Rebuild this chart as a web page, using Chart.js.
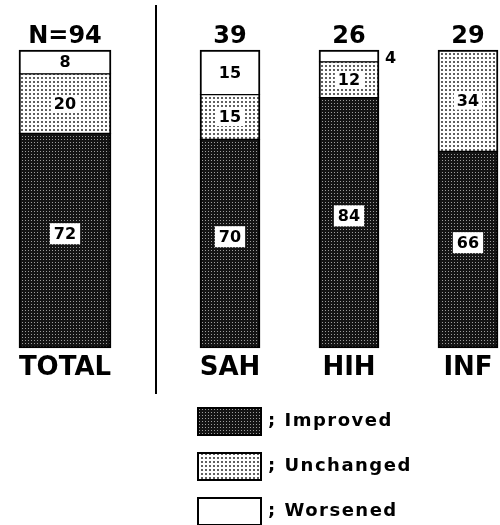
<!DOCTYPE html>
<html lang="en">
<head>
    <meta charset="UTF-8">
    <title>Outcome by group</title>
    <script src="https://cdn.jsdelivr.net/npm/chart.js"></script>
    <style>
        body { margin: 0; background: #fff; overflow: hidden; }
        #wrap { position: relative; width: 500px; height: 525px; }
        canvas { position: absolute; top: 0; left: 0; }
    </style>
</head>
<body>
    <div id="wrap">
        <canvas id="groupChart" width="500" height="525"></canvas>
        <canvas id="totalChart" width="130" height="525"></canvas>
    </div>
    <script>
        // percentages per group
        const groups = ['TOTAL', 'SAH', 'HIH', 'INF'];
        const counts = [94, 39, 26, 29];
        const improved = [72, 70, 84, 66];
        const unchanged = [20, 15, 12, 34];
        const worsened = [8, 15, 4, 0];
        const outcomes = ['Improved', 'Unchanged', 'Worsened'];

        Chart.defaults.font.family = '"DejaVu Sans", sans-serif';
        Chart.defaults.color = '#000';

        function makePattern(size, bg, dot, dotSize) {
            const c = document.createElement('canvas');
            c.width = size; c.height = size;
            const g = c.getContext('2d');
            g.fillStyle = bg;
            g.fillRect(0, 0, size, size);
            g.fillStyle = dot;
            g.fillRect(1, 1, dotSize, dotSize);
            return g.createPattern(c, 'repeat');
        }
        const darkFill = makePattern(3, '#141414', '#9c9c9c', 1);
        const lightFill = makePattern(4, '#ffffff', '#606060', 2);
        const fills = [darkFill, lightFill, '#ffffff'];

        // only the outer edge of each stack gets the heavy border
        function edges(c) {
            const ds = c.chart.data.datasets;
            const i = c.dataIndex, d = c.datasetIndex;
            const below = ds.slice(0, d).some(s => s.data[i] > 0);
            const above = ds.slice(d + 1).some(s => s.data[i] > 0);
            return { left: 2, right: 2, bottom: below ? 1 : 2, top: above ? 1 : 2 };
        }

        function buildDatasets(from, to, thickness) {
            return [improved, unchanged, worsened].map((arr, k) => ({
                label: outcomes[k],
                data: arr.slice(from, to),
                backgroundColor: fills[k],
                borderColor: '#000',
                borderWidth: edges,
                borderSkipped: false,
                barThickness: thickness,
                clip: false
            }));
        }

        const valueLabels = {
            id: 'valueLabels',
            afterDatasetsDraw(chart) {
                const ctx = chart.ctx;
                const nCounts = chart.options.plugins.valueLabels.counts;
                const prefix = chart.options.plugins.valueLabels.prefix;
                ctx.save();
                chart.data.datasets.forEach((ds, d) => {
                    const meta = chart.getDatasetMeta(d);
                    meta.data.forEach((bar, i) => {
                        const v = ds.data[i];
                        if (!v) return;
                        const p = bar.getProps(['x', 'y', 'base', 'width'], true);
                        const cy = (p.y + p.base) / 2;
                        ctx.font = 'bold 16px "DejaVu Sans"';
                        ctx.textBaseline = 'middle';
                        const txt = String(v);
                        const tw = ctx.measureText(txt).width;
                        if (d === 0) {
                            ctx.fillStyle = '#fff';
                            ctx.fillRect(p.x - tw / 2 - 4, cy - 7 - 10.5, tw + 8, 21);
                            ctx.fillStyle = '#000';
                            ctx.textAlign = 'center';
                            ctx.fillText(txt, p.x, cy - 7 + 1);
                        } else if (d === 1) {
                            ctx.fillStyle = '#fff';
                            ctx.fillRect(p.x - tw / 2 - 3, cy - 8, tw + 6, 17);
                            ctx.fillStyle = '#000';
                            ctx.textAlign = 'center';
                            ctx.fillText(txt, p.x, cy + 1);
                        } else if (v < 6) {
                            ctx.fillStyle = '#000';
                            ctx.textAlign = 'left';
                            ctx.fillText(txt, p.x + p.width / 2 + 6, cy + 3);
                        } else {
                            ctx.fillStyle = '#000';
                            ctx.textAlign = 'center';
                            ctx.fillText(txt, p.x, cy + 1);
                        }
                    });
                });
                // group size above each stack
                const top = chart.getDatasetMeta(chart.data.datasets.length - 1);
                top.data.forEach((bar, i) => {
                    ctx.font = 'bold 24px "DejaVu Sans"';
                    ctx.textAlign = 'center';
                    ctx.textBaseline = 'alphabetic';
                    ctx.fillStyle = '#000';
                    ctx.fillText(prefix + nCounts[i], bar.x, bar.y - 7);
                });
                ctx.restore();
            }
        };

        const sideDecor = {
            id: 'sideDecor',
            afterDraw(chart) {
                const ctx = chart.ctx;
                ctx.save();
                // divider between total and subgroups
                ctx.strokeStyle = '#000';
                ctx.lineWidth = 2;
                ctx.beginPath();
                ctx.moveTo(156, 5);
                ctx.lineTo(156, 394);
                ctx.stroke();
                // legend
                chart.data.datasets.forEach((ds, k) => {
                    const y = 407 + k * 45;
                    ctx.fillStyle = ds.backgroundColor;
                    ctx.fillRect(197, y, 65, 29);
                    ctx.lineWidth = 2;
                    ctx.strokeRect(198, y + 1, 63, 27);
                    ctx.fillStyle = '#000';
                    ctx.font = 'bold 18px "DejaVu Sans"';
                    ctx.letterSpacing = '1.5px';
                    ctx.textAlign = 'left';
                    ctx.textBaseline = 'middle';
                    ctx.fillText('; ' + ds.label, 268, y + 14);
                });
                ctx.restore();
            }
        };

        function xAxis(offset) {
            return {
                stacked: true,
                offset: offset,
                grid: { display: false, drawTicks: false },
                border: { display: false },
                ticks: { font: { size: 26, weight: 'bold' }, padding: 5, maxRotation: 0, autoSkip: false },
                afterFit(scale) { scale.height = 45; }
            };
        }
        const yAxis = { stacked: true, display: false, min: 0, max: 100 };

        new Chart(document.getElementById('totalChart'), {
            type: 'bar',
            data: { labels: groups.slice(0, 1), datasets: buildDatasets(0, 1, 92) },
            options: {
                responsive: false,
                animation: false,
                layout: { padding: { top: 50, bottom: 132, left: 0, right: 0 } },
                plugins: {
                    legend: { display: false },
                    tooltip: { enabled: false },
                    valueLabels: { counts: counts.slice(0, 1), prefix: 'N=' }
                },
                scales: { x: xAxis(true), y: yAxis }
            },
            plugins: [valueLabels]
        });

        new Chart(document.getElementById('groupChart'), {
            type: 'bar',
            data: { labels: groups.slice(1), datasets: buildDatasets(1, 4, 60) },
            options: {
                responsive: false,
                animation: false,
                layout: { padding: { top: 50, bottom: 132, left: 230, right: 32 } },
                plugins: {
                    legend: { display: false },
                    tooltip: { enabled: false },
                    valueLabels: { counts: counts.slice(1), prefix: '' }
                },
                scales: { x: xAxis(false), y: yAxis }
            },
            plugins: [valueLabels, sideDecor]
        });
    </script>
</body>
</html>
